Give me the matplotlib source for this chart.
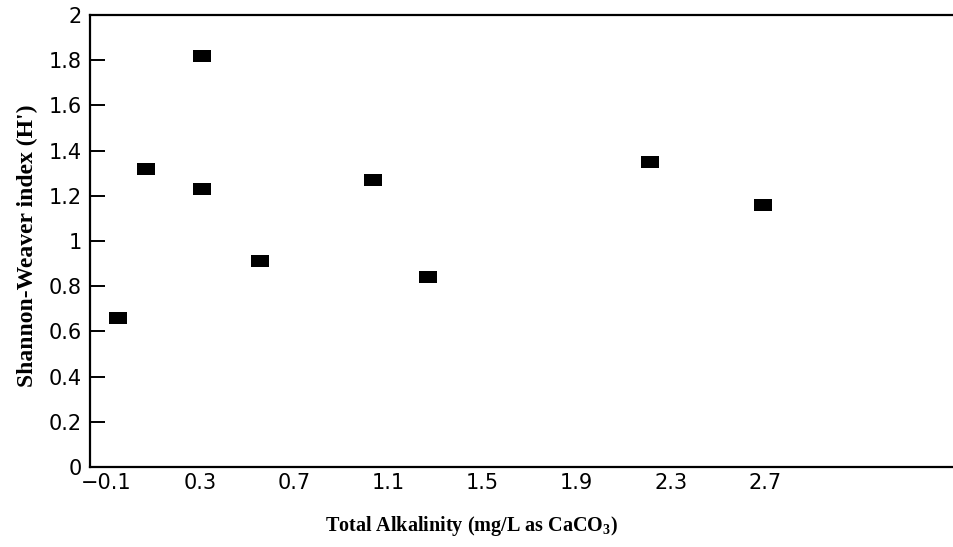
import matplotlib
matplotlib.use("Agg")
import matplotlib.pyplot as plt
from matplotlib.path import Path

plt.rcParams["mathtext.default"] = "regular"

# data
alkalinity = [-0.05, 0.07, 0.31, 0.31, 0.555, 1.035, 1.27, 2.21, 2.69]
shannon = [0.66, 1.32, 1.82, 1.23, 0.91, 1.27, 0.84, 1.35, 1.16]

x_ticks = [-0.1, 0.3, 0.7, 1.1, 1.5, 1.9, 2.3, 2.7]
x_tick_labels = ["\u22120.1", "0.3", "0.7", "1.1", "1.5", "1.9", "2.3", "2.7"]
y_ticks = [0, 0.2, 0.4, 0.6, 0.8, 1, 1.2, 1.4, 1.6, 1.8, 2]
y_tick_labels = ["0", "0.2", "0.4", "0.6", "0.8", "1", "1.2", "1.4", "1.6", "1.8", "2"]

# flat rectangle marker
rect = Path([(-1, -0.68), (1, -0.68), (1, 0.68), (-1, 0.68), (-1, -0.68)],
            [Path.MOVETO, Path.LINETO, Path.LINETO, Path.LINETO, Path.CLOSEPOLY])

fig = plt.figure(figsize=(9.54, 5.47), dpi=100)
ax = fig.add_axes([0.0943, 0.1463, 0.9057, 0.8263])

ax.plot(alkalinity, shannon, linestyle="none", marker=rect, markersize=13,
        color="black", markeredgewidth=0)

ax.set_xlim(-0.167, 3.503)
ax.set_ylim(0, 2)
ax.set_xticks(x_ticks)
ax.set_xticklabels(x_tick_labels)
ax.set_yticks(y_ticks)
ax.set_yticklabels(y_tick_labels)

ax.spines["right"].set_visible(False)
for s in ["left", "bottom", "top"]:
    ax.spines[s].set_linewidth(1.6)

ax.tick_params(axis="y", direction="in", length=11, width=1.4, labelsize=15, pad=6)
ax.tick_params(axis="x", length=0, labelsize=15, pad=4)

ax.set_ylabel("Shannon-Weaver index (H')", family="Liberation Serif",
              fontweight="bold", fontsize=17)
ax.yaxis.set_label_coords(-0.060, 0.49)
fig.text(0.494, 0.03, "Total Alkalinity (mg/L as CaCO$_3$)", ha="center",
         family="Liberation Serif", fontweight="bold", fontsize=14.5)

fig.savefig("out.png", dpi=100)
